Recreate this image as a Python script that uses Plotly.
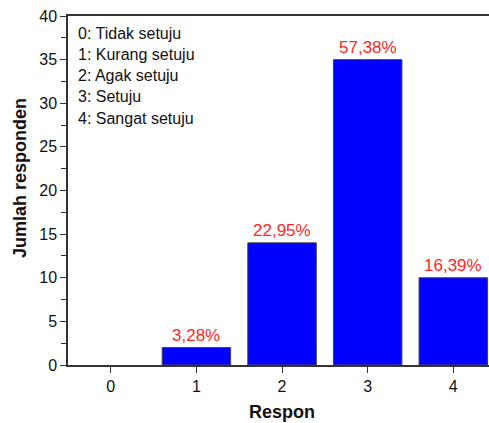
import plotly.graph_objects as go

categories = [0, 1, 2, 3, 4]
counts = [0, 2, 14, 35, 10]
pct_labels = ["", "3,28%", "22,95%", "57,38%", "16,39%"]
legend_lines = ["0: Tidak setuju", "1: Kurang setuju", "2: Agak setuju", "3: Setuju", "4: Sangat setuju"]
y_ticks = [0, 5, 10, 15, 20, 25, 30, 35, 40]
x_title = "Respon"
y_title = "Jumlah responden"

FONT = "Liberation Sans, Arial, sans-serif"
W, H = 489, 423
ML, MT, MB = 68, 16, 58
PW, PH = W - ML, H - MT - MB

fig = go.Figure()
fig.add_trace(go.Bar(
    x=categories, y=counts, width=0.8,
    marker=dict(color="#0000FF",
                line=dict(color="#444444", width=[0 if v == 0 else 1 for v in counts])),
    showlegend=False,
))

for c, v, t in zip(categories, counts, pct_labels):
    if t:
        fig.add_annotation(x=c, y=v, text=t, showarrow=False, yanchor="bottom", yshift=1,
                           font=dict(family=FONT, size=17, color="#FF2626"))

for i, line in enumerate(legend_lines):
    fig.add_annotation(xref="paper", yref="paper", x=(76 - ML) / PW, y=1 - (17 + 21.3 * i) / PH,
                       text=line, showarrow=False, xanchor="left", yanchor="middle",
                       font=dict(family=FONT, size=16, color="#111111"))

fig.add_annotation(xref="x", yref="paper", x=2, y=(MT + PH - 412) / PH,
                   text="<b>" + x_title + "</b>", showarrow=False, xanchor="center", yanchor="middle",
                   font=dict(family=FONT, size=18, color="#111111"))
fig.add_annotation(xref="paper", yref="paper", x=(20 - ML) / PW, y=(MT + PH - 178) / PH,
                   text="<b>" + y_title + "</b>", showarrow=False, textangle=-90,
                   xanchor="center", yanchor="middle",
                   font=dict(family=FONT, size=18, color="#111111"))

fig.update_layout(
    width=W, height=H,
    margin=dict(l=ML, r=0, t=MT, b=MB),
    plot_bgcolor="white", paper_bgcolor="white",
    font=dict(family=FONT, size=16, color="#111111"),
    bargap=0.2,
)
fig.update_xaxes(
    range=[-0.5, 4.417], tickvals=categories, ticktext=[str(c) for c in categories],
    showgrid=False, zeroline=False, automargin=False,
    showline=True, linecolor="#333333", linewidth=1.5, mirror=True,
    ticks="outside", ticklen=6, tickwidth=1.2, tickcolor="#333333",
    tickfont=dict(size=16),
)
fig.update_yaxes(
    range=[0, 40], tickvals=y_ticks,
    showgrid=False, zeroline=False, automargin=False,
    showline=True, linecolor="#333333", linewidth=1.5, mirror=False,
    ticks="outside", ticklen=6, tickwidth=1.2, tickcolor="#333333",
    tickfont=dict(size=16),
    minor=dict(dtick=2.5, tick0=0, ticks="outside", ticklen=5, tickwidth=1, tickcolor="#333333", showgrid=False),
)

fig.write_html("out.html", config={"displayModeBar": False},
               post_script="document.body.style.margin='0';document.body.style.overflow='hidden';")
